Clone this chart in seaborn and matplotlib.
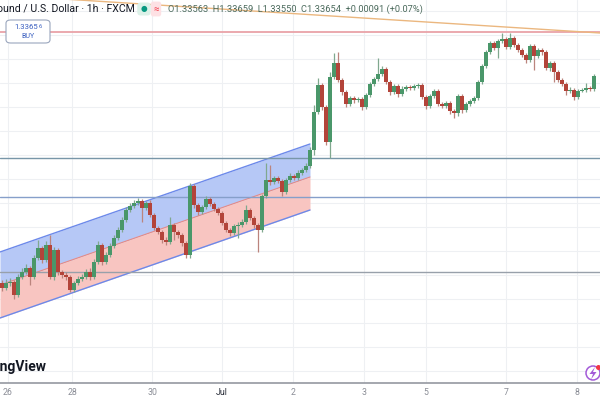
import numpy as np
import pandas as pd
import matplotlib
matplotlib.use('Agg')
import matplotlib.pyplot as plt
import seaborn as sns
from matplotlib.patches import FancyBboxPatch, Ellipse, Polygon

# hourly candles (price units)
first_open = 1.3417
closes = [1.3412, 1.3417, 1.3418, 1.3405, 1.3423, 1.3428, 1.3432, 1.3423, 1.3442, 1.3452,
          1.3440, 1.3455, 1.3423, 1.3450, 1.3428, 1.3425, 1.3423, 1.3410, 1.3417, 1.3421,
          1.3423, 1.3428, 1.3423, 1.3438, 1.3455, 1.3438, 1.3445, 1.3454, 1.3462, 1.3470,
          1.3480, 1.3490, 1.3494, 1.3497, 1.3499, 1.3492, 1.3497, 1.3485, 1.3472, 1.3468,
          1.3460, 1.3458, 1.3475, 1.3468, 1.3465, 1.3457, 1.3445, 1.3514, 1.3495, 1.3488,
          1.3493, 1.3501, 1.3496, 1.3491, 1.3487, 1.3477, 1.3470, 1.3467, 1.3474, 1.3475,
          1.3478, 1.3490, 1.3482, 1.3475, 1.3470, 1.3504, 1.3520, 1.3518, 1.3522, 1.3519,
          1.3508, 1.3520, 1.3524, 1.3522, 1.3527, 1.3530, 1.3534, 1.3550, 1.3588, 1.3615,
          1.3593, 1.3558, 1.3623, 1.3637, 1.3620, 1.3608, 1.3596, 1.3602, 1.3600, 1.3601,
          1.3593, 1.3605, 1.3616, 1.3621, 1.3626, 1.3631, 1.3618, 1.3608, 1.3614, 1.3606,
          1.3611, 1.3613, 1.3612, 1.3614, 1.3615, 1.3603, 1.3594, 1.3604, 1.3609, 1.3596,
          1.3594, 1.3597, 1.3589, 1.3587, 1.3604, 1.3590, 1.3596, 1.3599, 1.3602, 1.3618,
          1.3634, 1.3648, 1.3657, 1.3652, 1.3659, 1.3661, 1.3653, 1.3662, 1.3655, 1.3650,
          1.3645, 1.3640, 1.3654, 1.3644, 1.3650, 1.3648, 1.3632, 1.3637, 1.3628, 1.3620,
          1.3616, 1.3609, 1.3610, 1.3603, 1.3609, 1.3610, 1.3612, 1.3611, 1.3624]
highs = [1.3420, 1.3421, 1.3422, 1.3420, 1.3426, 1.3432, 1.3436, 1.3434, 1.3445, 1.3460,
         1.3454, 1.3459, 1.3465, 1.3453, 1.3452, 1.3430, 1.3428, 1.3425, 1.3419, 1.3424,
         1.3426, 1.3431, 1.3432, 1.3441, 1.3459, 1.3457, 1.3448, 1.3457, 1.3465, 1.3473,
         1.3483, 1.3493, 1.3497, 1.3500, 1.3502, 1.3501, 1.3499, 1.3500, 1.3487, 1.3474,
         1.3470, 1.3463, 1.3483, 1.3477, 1.3470, 1.3467, 1.3459, 1.3517, 1.3516, 1.3497,
         1.3495, 1.3504, 1.3503, 1.3498, 1.3493, 1.3489, 1.3479, 1.3472, 1.3476, 1.3478,
         1.3481, 1.3495, 1.3492, 1.3484, 1.3477, 1.3506, 1.3537, 1.3535, 1.3524, 1.3524,
         1.3521, 1.3522, 1.3527, 1.3526, 1.3530, 1.3532, 1.3537, 1.3553, 1.3595, 1.3622,
         1.3617, 1.3595, 1.3628, 1.3647, 1.3648, 1.3622, 1.3610, 1.3604, 1.3604, 1.3603,
         1.3603, 1.3607, 1.3618, 1.3623, 1.3642, 1.3634, 1.3633, 1.3620, 1.3616, 1.3616,
         1.3614, 1.3615, 1.3615, 1.3616, 1.3617, 1.3617, 1.3605, 1.3606, 1.3611, 1.3611,
         1.3598, 1.3599, 1.3599, 1.3591, 1.3606, 1.3606, 1.3598, 1.3601, 1.3604, 1.3620,
         1.3636, 1.3650, 1.3659, 1.3659, 1.3661, 1.3667, 1.3663, 1.3667, 1.3664, 1.3657,
         1.3652, 1.3647, 1.3656, 1.3656, 1.3652, 1.3652, 1.3650, 1.3639, 1.3639, 1.3630,
         1.3622, 1.3618, 1.3613, 1.3612, 1.3611, 1.3612, 1.3617, 1.3614, 1.3626]
lows = [1.3409, 1.3410, 1.3414, 1.3401, 1.3403, 1.3421, 1.3426, 1.3415, 1.3421, 1.3440,
        1.3437, 1.3438, 1.3421, 1.3420, 1.3425, 1.3422, 1.3420, 1.3408, 1.3408, 1.3415,
        1.3419, 1.3421, 1.3420, 1.3421, 1.3436, 1.3435, 1.3436, 1.3443, 1.3452, 1.3460,
        1.3468, 1.3478, 1.3488, 1.3492, 1.3495, 1.3478, 1.3490, 1.3483, 1.3470, 1.3466,
        1.3457, 1.3455, 1.3456, 1.3460, 1.3462, 1.3454, 1.3442, 1.3442, 1.3492, 1.3485,
        1.3486, 1.3491, 1.3494, 1.3489, 1.3485, 1.3475, 1.3468, 1.3464, 1.3465, 1.3462,
        1.3473, 1.3476, 1.3480, 1.3472, 1.3448, 1.3468, 1.3502, 1.3515, 1.3516, 1.3517,
        1.3504, 1.3506, 1.3518, 1.3520, 1.3520, 1.3525, 1.3528, 1.3532, 1.3545, 1.3586,
        1.3590, 1.3555, 1.3542, 1.3621, 1.3618, 1.3605, 1.3593, 1.3594, 1.3597, 1.3598,
        1.3590, 1.3591, 1.3603, 1.3614, 1.3619, 1.3624, 1.3616, 1.3605, 1.3606, 1.3603,
        1.3604, 1.3609, 1.3610, 1.3610, 1.3612, 1.3601, 1.3591, 1.3592, 1.3602, 1.3594,
        1.3592, 1.3592, 1.3586, 1.3582, 1.3584, 1.3587, 1.3588, 1.3594, 1.3597, 1.3600,
        1.3616, 1.3632, 1.3646, 1.3650, 1.3642, 1.3657, 1.3651, 1.3651, 1.3653, 1.3648,
        1.3643, 1.3637, 1.3638, 1.3630, 1.3642, 1.3645, 1.3630, 1.3629, 1.3618, 1.3618,
        1.3614, 1.3605, 1.3607, 1.3600, 1.3601, 1.3608, 1.3608, 1.3609, 1.3609]

# day labels on the time axis (candle index where they sit)
day_ticks = [1.5, 17.5, 37.5, 55, 72.75, 90.5, 106, 126, 143.75]
day_labels = ['26', '28', '30', 'Jul', '2', '3', '5', '7', '8']

# drawings on the chart
levels = [1.3542, 1.3503, 1.3428]
level_colors = ['#7896a8', '#869fca', '#98a0aa']
resistance = 1.3668
trend_x = [-0.5, 149.5]
trend_y = [1.3705, 1.3667]
channel_x = [-0.5, 77]
channel_upper = [1.3448, 1.3556]
channel_mid = [1.3415, 1.3523]
channel_lower = [1.3382, 1.3490]

header = 'British Pound / U.S. Dollar \u00b7 1h \u00b7 FXCM'
ohlc = 'O1.33563  H1.33659  L1.33550  C1.33654  +0.00091 (+0.07%)'

df = pd.DataFrame({'close': closes, 'high': highs, 'low': lows})
df['open'] = [first_open] + closes[:-1]
df['idx'] = np.arange(len(df))
df['up'] = df['close'] >= df['open']

sns.set_theme(style='white')
plt.rcParams['font.family'] = ['Roboto', 'DejaVu Sans']

fig = plt.figure(figsize=(6, 4), dpi=100)
ax = fig.add_axes([0, 17 / 400, 1, 383 / 400])
ax.set_xlim(-0.5, 149.5)
ax.set_ylim(1.3317, 1.3700)

# grid
ax.set_yticks(np.arange(1.3689, 1.3317, -0.0024))
ax.set_xticks(day_ticks, day_labels)
ax.grid(True, color='#eef0f3', lw=0.8, zorder=0)
ax.tick_params(axis='y', left=False, labelleft=False)
ax.tick_params(axis='x', length=0, pad=3.5, labelsize=6.3, colors='#8a8d96')
for lbl in ax.get_xticklabels():
    if lbl.get_text() == 'Jul':
        lbl.set_color('#2a2e39')
for s in ['top', 'right', 'left']:
    ax.spines[s].set_visible(False)
ax.spines['bottom'].set_color('#9598a1')
ax.spines['bottom'].set_linewidth(1.2)

# regression channel
ax.fill_between(channel_x, channel_mid, channel_upper, color='#b6c8f6', lw=0, zorder=1)
ax.fill_between(channel_x, channel_lower, channel_mid, color='#f8c5c1', lw=0, zorder=1)
sns.lineplot(x=channel_x, y=channel_upper, color='#6c89ea', lw=1, ax=ax, zorder=2)
sns.lineplot(x=channel_x, y=channel_lower, color='#6c89ea', lw=1, ax=ax, zorder=2)
sns.lineplot(x=channel_x, y=channel_mid, color='#e58a86', lw=0.8, ax=ax, zorder=2)

# horizontal levels, resistance and trend line
for lvl, c in zip(levels, level_colors):
    ax.axhline(lvl, color=c, lw=1, zorder=2)
ax.axhline(resistance, color='#e9a3a8', lw=1.3, zorder=2)
sns.lineplot(x=trend_x, y=trend_y, color='#ebb77f', lw=1, ax=ax, zorder=2)

# candles
body_col = np.where(df['up'], '#4a976a', '#b3443a')
wick_col = np.where(df['up'], '#80a88f', '#bb847d')
ax.vlines(df['idx'], df['low'], df['high'], colors=wick_col, lw=0.9, zorder=3)
height = df['close'] - df['open']
height = np.where(np.abs(height) < 0.00009, 0.00009, height)
ax.bar(df['idx'], height, bottom=df['open'], width=0.8, color=body_col, lw=0, zorder=4)

# header
ty = 1 - 9 / 400
fig.text(135 / 600, ty, header, ha='right', va='center', fontsize=7.6, color='#131722')
fig.text(144 / 600, ty, '\u25cf', ha='center', va='center', fontsize=5.5, color='#089981',
         bbox=dict(boxstyle='round,pad=0.45', fc='#dcf1e8', ec='none'))
fig.text(156 / 600, ty, '\u2248', ha='center', va='center', fontsize=7, color='#f23645',
         bbox=dict(boxstyle='round,pad=0.25', fc='#fde1e4', ec='none'))
fig.text(168 / 600, ty, ohlc, ha='left', va='center', fontsize=6.7, color='#4b6a5c')

# buy button
fig.patches.append(FancyBboxPatch((6 / 600, 1 - 43 / 400), 44 / 600, 23 / 400,
                                  boxstyle='round,pad=0,rounding_size=0.008',
                                  transform=fig.transFigure, fc='white', ec='#9aa6bd', lw=0.8, zorder=5))
fig.text(38 / 600, 1 - 27 / 400, '1.3365', ha='right', va='center', fontsize=5.6, color='#3a5fc0', zorder=6)
fig.text(38.5 / 600, 1 - 26 / 400, '6', ha='left', va='center', fontsize=4.2, color='#3a5fc0', zorder=6)
fig.text(28 / 600, 1 - 36.5 / 400, 'BUY', ha='center', va='center', fontsize=5, color='#3a5fc0', zorder=6)

# watermark logo and icon
fig.text(47 / 600, 1 - 367 / 400, 'TradingView', ha='right', va='center', fontsize=10,
         fontweight='bold', color='#131722')
fig.patches.append(Ellipse((593 / 600, 1 - 373 / 400), 14 / 600, 14 / 400, transform=fig.transFigure,
                           fc='white', ec='#a35ad8', lw=1.1, zorder=5))
bolt = [(595, 367), (589.5, 374), (593, 374), (591, 379.5), (596.5, 372), (593, 372)]
fig.patches.append(Polygon([(x / 600, 1 - y / 400) for x, y in bolt], closed=True,
                           transform=fig.transFigure, fc='#a35ad8', ec='none', zorder=6))
fig.patches.append(Ellipse((598.5 / 600, 1 - 367.5 / 400), 5 / 600, 5 / 400, transform=fig.transFigure,
                           fc='#f23645', ec='none', zorder=7))

plt.savefig('out.png', dpi=100)
